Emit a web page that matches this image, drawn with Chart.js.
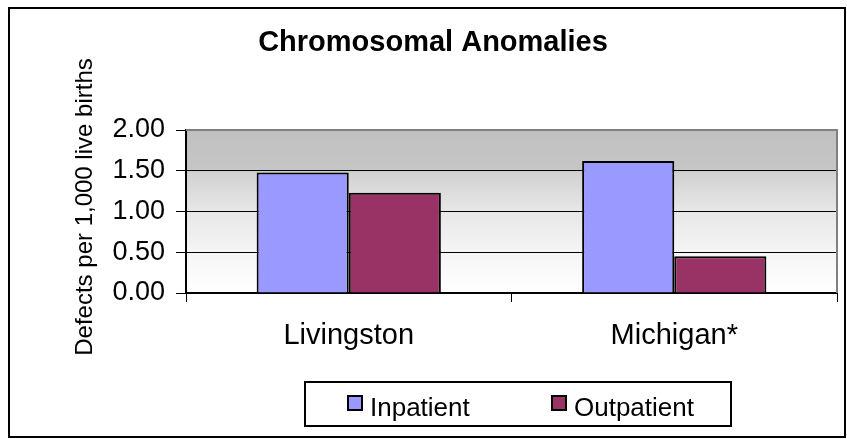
<!DOCTYPE html>
<html>
<head>
<meta charset="utf-8">
<title>Chromosomal Anomalies</title>
<script src="https://cdn.jsdelivr.net/npm/chart.js@4.4.0/dist/chart.umd.min.js"></script>
<style>
  html, body { margin: 0; padding: 0; background: #fff; }
  canvas { display: block; }
</style>
</head>
<body>
<canvas id="chart" width="847" height="439"></canvas>
<script>
// data
const categories = ["Livingston", "Michigan*"];
const inpatient = [1.48, 1.62];
const outpatient = [1.23, 0.45];
const seriesNames = ["Inpatient", "Outpatient"];
const yTicks = [0, 0.5, 1, 1.5, 2];

const chartTitle = "Chromosomal Anomalies";
const yTitle = "Defects per 1,000 live births";
const colors = ["#9999ff", "#993366"];
const font = "'Liberation Sans', Arial, sans-serif";

// background, frame, title, y title and legend box
const excelLook = {
  id: "excelLook",
  beforeDraw(chart) {
    const { ctx, chartArea: a } = chart;
    ctx.save();
    ctx.fillStyle = "#fff";
    ctx.fillRect(0, 0, chart.width, chart.height);
    const g = ctx.createLinearGradient(0, a.top, 0, a.bottom);
    g.addColorStop(0, "#c0c0c0");
    g.addColorStop(0.24, "#c6c6c6");
    g.addColorStop(0.27, "#d2d2d2");
    g.addColorStop(0.5, "#e7e7e7");
    g.addColorStop(0.75, "#f5f5f5");
    g.addColorStop(1, "#ffffff");
    ctx.fillStyle = g;
    ctx.fillRect(a.left, a.top, a.right - a.left, a.bottom - a.top);
    ctx.restore();
  },
  beforeDatasetsDraw(chart) {
    const { ctx, chartArea: a } = chart;
    ctx.save();
    ctx.strokeStyle = "#808080";
    ctx.lineWidth = 2;
    ctx.beginPath();
    ctx.moveTo(a.left, a.top);
    ctx.lineTo(a.right, a.top);
    ctx.lineTo(a.right, a.bottom);
    ctx.stroke();
    ctx.restore();
  },
  afterDraw(chart) {
    const ctx = chart.ctx;
    ctx.save();
    // outer frame
    ctx.strokeStyle = "#000";
    ctx.lineWidth = 2;
    ctx.strokeRect(9, 8, 836, 429);

    // title
    ctx.fillStyle = "#000";
    ctx.font = "bold 29px " + font;
    ctx.textAlign = "center";
    ctx.textBaseline = "alphabetic";
    ctx.fillText(chartTitle, 433, 51);

    // y title
    ctx.save();
    ctx.translate(92, 207);
    ctx.rotate(-Math.PI / 2);
    ctx.font = "24px " + font;
    ctx.fillText(yTitle, 0, 0);
    ctx.restore();

    // legend
    ctx.lineWidth = 2;
    ctx.strokeRect(305, 382, 426, 44);
    ctx.font = "26px " + font;
    ctx.textAlign = "left";
    const xs = [348, 552];
    chart.data.datasets.forEach((ds, i) => {
      ctx.fillStyle = ds.backgroundColor;
      ctx.fillRect(xs[i], 396, 14, 14);
      ctx.strokeStyle = "#000";
      ctx.strokeRect(xs[i], 396, 14, 14);
      ctx.fillStyle = "#000";
      ctx.fillText(ds.label, xs[i] + 22, 416);
    });
    ctx.restore();
  }
};

new Chart(document.getElementById("chart"), {
  type: "bar",
  data: {
    labels: categories,
    datasets: [
      { label: seriesNames[0], data: inpatient, backgroundColor: colors[0], borderColor: "#000", borderWidth: 2 },
      { label: seriesNames[1], data: outpatient, backgroundColor: colors[1], borderColor: "#000", borderWidth: 2 }
    ]
  },
  options: {
    responsive: false,
    animation: false,
    devicePixelRatio: 1,
    layout: { padding: { left: 0, right: 10, top: 130, bottom: 0 } },
    datasets: { bar: { categoryPercentage: 0.566, barPercentage: 1 } },
    plugins: { legend: { display: false }, title: { display: false }, tooltip: { enabled: false } },
    scales: {
      x: {
        afterFit(scale) { scale.height = 146; },
        border: { color: "#000", width: 2 },
        grid: { offset: true, drawOnChartArea: false, color: "#000", tickColor: "#000", tickLength: 9 },
        ticks: { color: "#000", font: { family: font, size: 29 }, padding: 17 }
      },
      y: {
        min: 0,
        max: 2,
        afterFit(scale) { scale.width = 186; },
        afterBuildTicks(scale) { scale.ticks = yTicks.map(v => ({ value: v })); },
        border: { color: "#000", width: 2 },
        grid: {
          color: ctx => (ctx.tick && ctx.tick.value === 2 ? "#808080" : "#000"),
          tickColor: "#000",
          tickLength: 10
        },
        ticks: {
          color: "#000",
          font: { family: font, size: 27 },
          padding: 11,
          callback: v => Number(v).toFixed(2)
        }
      }
    }
  },
  plugins: [excelLook]
});
</script>
</body>
</html>
